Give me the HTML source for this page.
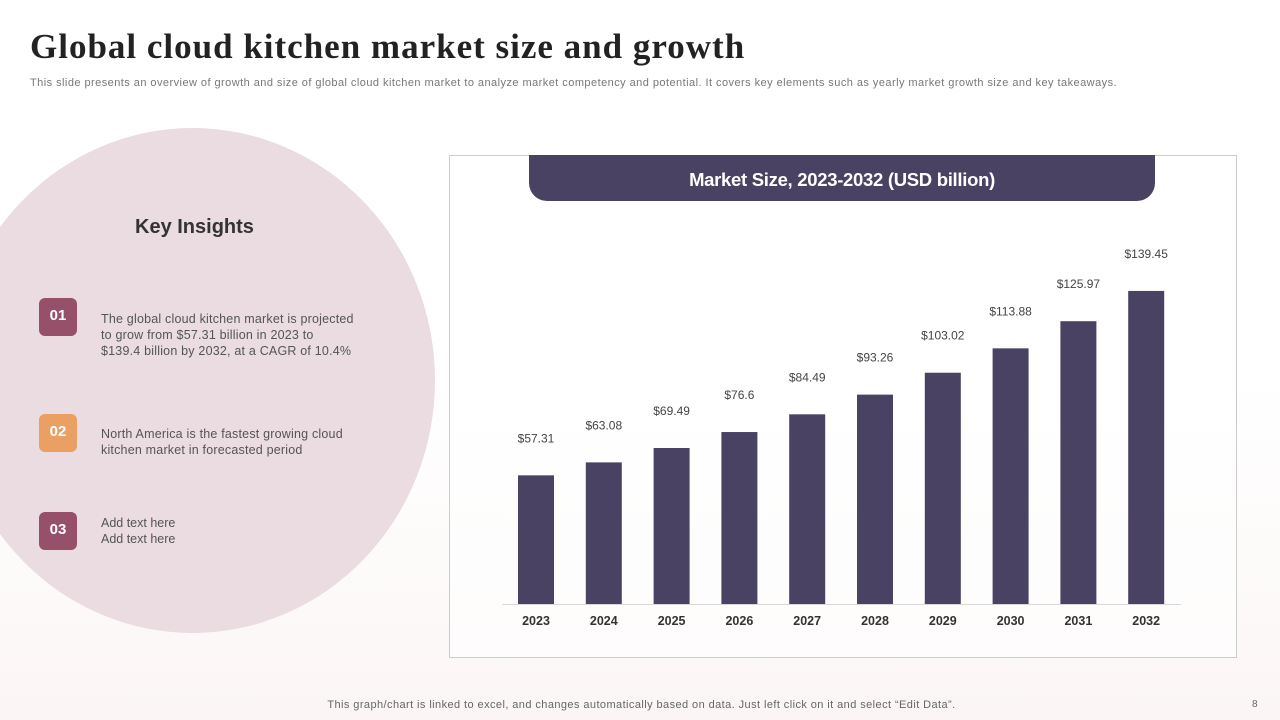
<!DOCTYPE html>
<html><head><meta charset="utf-8"><style>
body{margin:0;width:1280px;height:720px;overflow:hidden;background:#fff;font-family:"Liberation Sans",sans-serif;position:relative}
.abs{position:absolute}
.badge{position:absolute;left:39px;width:38px;height:38px;border-radius:6px;color:#fff;font-weight:bold;font-size:15px;text-align:center;line-height:36px}
.txt{position:absolute;left:101px;font-size:12.5px;color:#555;line-height:16px}
</style></head><body>
<div class="abs" style="left:0;top:380px;width:1280px;height:340px;background:linear-gradient(#fff,#fbf6f5)"></div>
<div class="abs" style="left:30px;top:27px;font-family:'Liberation Serif',serif;font-weight:bold;font-size:35px;letter-spacing:1px;color:#222">Global cloud kitchen market size and growth</div>
<div class="abs" style="left:30px;top:77px;font-size:11px;letter-spacing:0.45px;color:#777;white-space:nowrap">This slide presents an overview of growth and size of global cloud kitchen market to analyze market competency and potential. It covers key elements such as yearly market growth size and key takeaways.</div>
<div class="abs" style="left:-50px;top:128px;width:485px;height:505px;border-radius:50%;background:#eadce1"></div>
<div class="abs" style="left:135px;top:216px;font-size:20px;font-weight:bold;color:#333">Key Insights</div>
<div class="badge" style="top:298px;background:#97506a">01</div>
<div class="txt" style="top:311px;letter-spacing:0.2px">The global cloud kitchen market is projected<br>to grow from $57.31 billion in 2023 to<br>$139.4 billion by 2032, at a CAGR of 10.4%</div>
<div class="badge" style="top:414px;background:#e9a062">02</div>
<div class="txt" style="top:426px;letter-spacing:0.2px">North America is the fastest growing cloud<br>kitchen market in forecasted period</div>
<div class="badge" style="top:512px;background:#97506a">03</div>
<div class="txt" style="top:515px">Add text here<br>Add text here</div>
<div class="abs" style="left:449px;top:155px;width:786px;height:501px;border:1px solid #ccc;background:rgba(255,255,255,0.6)"></div>
<div class="abs" style="left:529px;top:155px;width:626px;height:46px;background:#4a4262;border-radius:0 0 18px 18px;color:#fff;font-weight:bold;font-size:18.5px;letter-spacing:-0.3px;text-align:center;line-height:50px">Market Size, 2023-2032 (USD billion)</div>
<svg class="abs" style="left:0;top:0" width="1280" height="720" id="chart"></svg>
<div class="abs" style="left:0;width:1283px;text-align:center;top:699px;font-size:11px;letter-spacing:0.42px;color:#666">This graph/chart is linked to excel, and changes automatically based on data. Just left click on it and select “Edit Data”.</div>
<div class="abs" style="left:1252px;top:699px;font-size:10px;color:#666">8</div>
<script>
const categories=["2023","2024","2025","2026","2027","2028","2029","2030","2031","2032"];
const values=[57.31,63.08,69.49,76.6,84.49,93.26,103.02,113.88,125.97,139.45];
const valueLabels=["$57.31","$63.08","$69.49","$76.6","$84.49","$93.26","$103.02","$113.88","$125.97","$139.45"];
const NS="http://www.w3.org/2000/svg",svg=document.getElementById('chart');
const base=604,scale=2.245,x0=536,step=67.8,bw=36;
const xs=i=>x0+i*step, ys=v=>base-v*scale;
function mk(t,a){const e=document.createElementNS(NS,t);for(const k in a)e.setAttribute(k,a[k]);svg.appendChild(e);return e;}
const ax=mk('line',{x1:502,x2:1181,y1:base+0.5,y2:base+0.5,stroke:'#d9d9d9'});


categories.forEach((c,i)=>{
 const r=mk('rect',{x:xs(i)-bw/2,y:ys(values[i]),width:bw,height:values[i]*scale,fill:'#4a4262'});
 
 
 const l=mk('text',{x:xs(i),y:ys(values[i])-33,'text-anchor':'middle','font-size':12,fill:'#444'});
 l.textContent=valueLabels[i];
 
 
 const t=mk('text',{x:xs(i),y:625,'text-anchor':'middle','font-size':12.5,'font-weight':'bold',fill:'#333'});
 t.textContent=c;
 
 
});
</script>
</body></html>
